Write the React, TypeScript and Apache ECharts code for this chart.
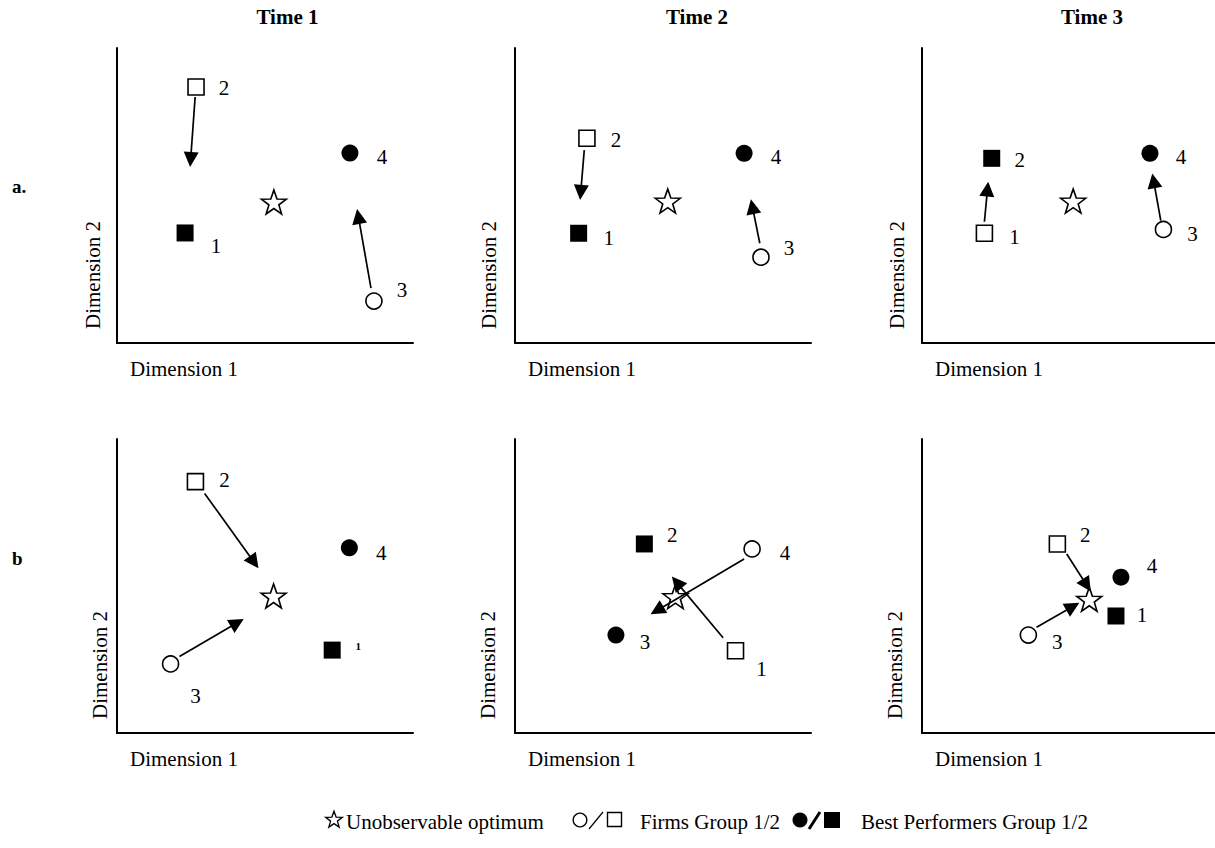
import React, { useEffect, useRef } from 'react';
import * as echarts from 'echarts';

// ---------- data ----------
const timeLabels = ['Time 1', 'Time 2', 'Time 3'];
const rowLabels = ['a.', 'b'];
const xAxisName = 'Dimension 1';
const yAxisName = 'Dimension 2';
const firmIds = ['1', '2', '3', '4'];
// firm group (1 = circle, 2 = square) for firms 1..4
const firmGroup = [2, 2, 1, 1];
// best performers per panel (a1, a2, a3, b1, b2, b3)
const bestPerformers = [[1, 4], [1, 4], [2, 4], [1, 4], [2, 3], [1, 4]];
const firmX = [
  [23.0, 26.7, 86.8, 78.7],
  [21.5, 24.3, 83.1, 77.4],
  [21.3, 23.8, 82.4, 77.8],
  [72.7, 26.5, 18.1, 78.5],
  [74.5, 43.7, 34.1, 80.1],
  [66.2, 46.2, 36.3, 67.9],
];
const firmY = [
  [37.3, 86.8, 14.2, 64.4],
  [37.2, 69.4, 29.1, 64.3],
  [37.2, 62.6, 38.5, 64.3],
  [28.2, 85.5, 23.5, 63.0],
  [28.0, 64.3, 33.3, 62.6],
  [39.8, 64.3, 33.3, 53.0],
];
const optimumX = [53.0, 51.6, 51.6, 52.9, 54.2, 57.1];
const optimumY = [47.8, 48.1, 48.1, 46.6, 46.4, 45.5];
// arrows: start and tip, per panel, two arrows each
const arrowStart = [
  [[26.4, 83.4], [85.8, 18.6]],
  [[23.4, 65.4], [82.7, 33.8]],
  [[21.3, 41.1], [81.5, 41.5]],
  [[29.6, 81.5], [21.1, 26.0]],
  [[77.4, 59.2], [70.3, 32.4]],
  [[49.4, 60.9], [39.1, 36.0]],
];
const arrowTip = [
  [[24.7, 59.7], [81.1, 45.4]],
  [[22.0, 48.5], [79.7, 48.7]],
  [[22.6, 54.7], [78.6, 57.5]],
  [[47.8, 56.0], [42.8, 38.8]],
  [[45.8, 40.4], [53.0, 53.2]],
  [[57.6, 48.1], [53.7, 44.3]],
];
const legendTexts = ['Unobservable optimum', 'Firms Group 1/2', 'Best Performers Group 1/2'];

// ---------- layout / style ----------
const FONT = '"Liberation Serif", "Times New Roman", serif';
const gridLefts = [117, 515, 922];
const gridWidths = [296, 296, 293];
const gridTops = [48, 439];
const gridHeights = [295, 294];
const yNameDx = [[-24, -26, -25], [-17, -27, -27]];
const labelOffsets = [
  [[31, 13], [28, 1], [28, -11], [32, 4]],
  [[30, 5], [29, 2], [28, -9], [32, 4]],
  [[30, 4], [28, 2], [29, 5], [31, 4]],
  [[26, -4], [29, -2], [25, 32], [32, 5]],
  [[26, 18], [28, -9], [29, 7], [33, 4]],
  [[26, -1], [28, -9], [29, 7], [31, -11]],
];
const smallLabel: Record<string, boolean> = { '3-0': true };

function starPoints(cx: number, cy: number, R: number, r: number) {
  const pts: number[][] = [];
  for (let i = 0; i < 10; i++) {
    const a = -Math.PI / 2 + (i * Math.PI) / 5;
    const rad = i % 2 === 0 ? R : r;
    pts.push([cx + rad * Math.cos(a), cy + rad * Math.sin(a)]);
  }
  return pts;
}
const starSymbol =
  'path://' +
  starPoints(0, 0, 50, 20)
    .map((p, i) => (i ? 'L' : 'M') + p[0].toFixed(2) + ' ' + p[1].toFixed(2))
    .join(' ') +
  ' Z';

function buildOption() {
  const grid: any[] = [];
  const xAxis: any[] = [];
  const yAxis: any[] = [];
  const series: any[] = [];
  const graphic: any[] = [];

  const txt = (text: string, x: number, y: number, extra: any = {}, rotation = 0) => ({
    type: 'text',
    x,
    y,
    rotation,
    silent: true,
    style: {
      text,
      fill: '#000',
      fontSize: 21,
      fontFamily: FONT,
      align: 'left',
      textAlign: 'left',
      verticalAlign: 'middle',
      textVerticalAlign: 'middle',
      ...extra,
    },
  });

  for (let p = 0; p < 6; p++) {
    const row = Math.floor(p / 3);
    const col = p % 3;
    const left = gridLefts[col];
    const top = gridTops[row];
    const w = gridWidths[col];
    const h = gridHeights[row];
    grid.push({ left, top, width: w, height: h, containLabel: false });
    const axisCommon = {
      type: 'value',
      gridIndex: p,
      min: 0,
      max: 100,
      axisLine: { show: true, onZero: false, lineStyle: { color: '#000', width: 2 } },
      axisTick: { show: false },
      axisLabel: { show: false },
      splitLine: { show: false },
    };
    xAxis.push({ ...axisCommon });
    yAxis.push({ ...axisCommon });

    const data: any[] = [];
    for (let j = 0; j < 4; j++) {
      const isCircle = firmGroup[j] === 1;
      const filled = bestPerformers[p].includes(j + 1);
      const small = smallLabel[p + '-' + j];
      data.push({
        name: firmIds[j],
        value: [firmX[p][j], firmY[p][j]],
        symbol: isCircle ? 'circle' : 'rect',
        symbolSize: filled ? 17 : 16,
        itemStyle: filled
          ? { color: '#000', borderWidth: 0, opacity: 1 }
          : { color: '#fff', borderColor: '#000', borderWidth: 1.6, opacity: 1 },
        label: {
          show: true,
          position: 'inside',
          offset: labelOffsets[p][j],
          formatter: '{b}',
          color: '#000',
          opacity: 1,
          fontFamily: FONT,
          fontSize: small ? 11 : 21,
          fontWeight: small ? 'bold' : 'normal',
        },
      });
    }
    data.push({
      name: 'optimum',
      value: [optimumX[p], optimumY[p]],
      symbol: starSymbol,
      symbolSize: [25, 24],
      itemStyle: { color: '#fff', borderColor: '#000', borderWidth: 1.6, opacity: 1 },
      label: { show: false },
    });
    series.push({
      type: 'scatter',
      xAxisIndex: p,
      yAxisIndex: p,
      z: 2,
      silent: true,
      itemStyle: { opacity: 1 },
      data,
    });

    // arrows: pull back endpoint so the arrowhead tip lands on the tip point
    const sx = w / 100;
    const sy = h / 100;
    const headLen = 15;
    const lineData = arrowStart[p].map((s, k) => {
      const t = arrowTip[p][k];
      const dxp = (t[0] - s[0]) * sx;
      const dyp = (t[1] - s[1]) * sy;
      const len = Math.sqrt(dxp * dxp + dyp * dyp);
      const f = headLen / 2 / len;
      const end = [t[0] - (t[0] - s[0]) * f, t[1] - (t[1] - s[1]) * f];
      return { coords: [s, end] };
    });
    series.push({
      type: 'lines',
      coordinateSystem: 'cartesian2d',
      xAxisIndex: p,
      yAxisIndex: p,
      z: 3,
      silent: true,
      symbol: ['none', 'triangle'],
      symbolSize: [14, headLen],
      lineStyle: { color: '#000', width: 1.7, opacity: 1 },
      itemStyle: { color: '#000' },
      data: lineData,
    });

    // axis names
    graphic.push(txt(xAxisName, left + 13, top + h + 26));
    graphic.push(txt(yAxisName, left + yNameDx[row][col], top + h - 14, {}, Math.PI / 2));
  }

  // titles
  const titleX = [287.5, 697, 1092];
  timeLabels.forEach((t, i) =>
    graphic.push(txt(t, titleX[i], 17, { fontWeight: 'bold', align: 'center', textAlign: 'center' }))
  );
  // row labels
  graphic.push(txt(rowLabels[0], 12, 186, { fontWeight: 'bold', fontSize: 19 }));
  graphic.push(txt(rowLabels[1], 12, 558, { fontWeight: 'bold', fontSize: 19 }));

  // legend
  const ly = 820;
  graphic.push({
    type: 'polygon',
    silent: true,
    shape: { points: starPoints(334, ly, 8.8, 3.6) },
    style: { fill: '#fff', stroke: '#000', lineWidth: 1.3 },
  });
  graphic.push(txt(legendTexts[0], 346, ly + 2));
  graphic.push({
    type: 'circle',
    silent: true,
    shape: { cx: 580, cy: ly, r: 6.8 },
    style: { fill: '#fff', stroke: '#000', lineWidth: 1.4 },
  });
  graphic.push({
    type: 'line',
    silent: true,
    shape: { x1: 589, y1: ly + 9, x2: 603, y2: ly - 8 },
    style: { stroke: '#000', lineWidth: 1.2 },
  });
  graphic.push({
    type: 'rect',
    silent: true,
    shape: { x: 607.5, y: ly - 7.5, width: 14, height: 14 },
    style: { fill: '#fff', stroke: '#000', lineWidth: 1.4 },
  });
  graphic.push(txt(legendTexts[1], 640, ly + 2));
  graphic.push({
    type: 'circle',
    silent: true,
    shape: { cx: 800, cy: ly, r: 7.5 },
    style: { fill: '#000' },
  });
  graphic.push({
    type: 'line',
    silent: true,
    shape: { x1: 809, y1: ly + 9, x2: 820, y2: ly - 8 },
    style: { stroke: '#000', lineWidth: 3 },
  });
  graphic.push({
    type: 'rect',
    silent: true,
    shape: { x: 824, y: ly - 8, width: 16, height: 16 },
    style: { fill: '#000' },
  });
  graphic.push(txt(legendTexts[2], 861, ly + 2));

  return {
    animation: false,
    backgroundColor: '#fff',
    textStyle: { fontFamily: FONT },
    grid,
    xAxis,
    yAxis,
    series,
    graphic: { elements: graphic },
  };
}

export default function App() {
  const ref = useRef<HTMLDivElement>(null);
  useEffect(() => {
    if (!ref.current) return;
    const chart = echarts.init(ref.current, undefined, { renderer: 'svg' });
    chart.setOption(buildOption() as any);
    return () => chart.dispose();
  }, []);
  return (
    <div
      ref={ref}
      style={{ position: 'fixed', left: 0, top: 0, width: 1215, height: 848, background: '#fff' }}
    />
  );
}
